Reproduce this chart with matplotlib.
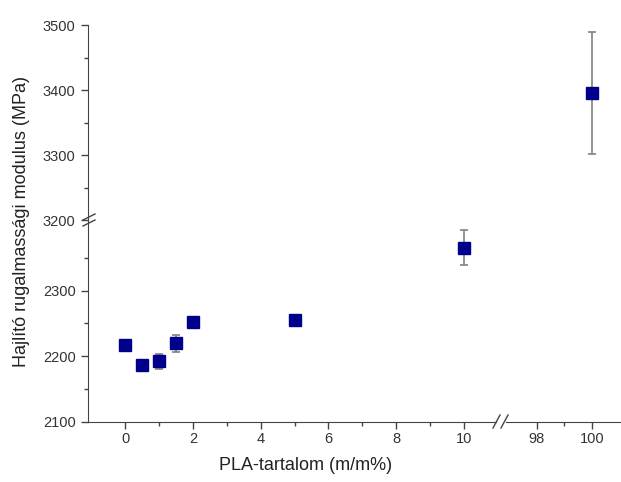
import matplotlib.pyplot as plt
from matplotlib.lines import Line2D

# ---------------- DATA ----------------

pla = [0, 0.5, 1, 1.5, 2, 5, 10, 100]
modulus = [2217, 2187, 2192, 2220, 2252, 2255, 2366, 3396]
err = [4, 4, 12, 13, 4, 4, 27, 94]

low_ticks = [2100, 2200, 2300]
high_ticks = [3200, 3300, 3400, 3500]
left_xticks = [0, 2, 4, 6, 8, 10]
right_xticks = [98, 100]

# ---------------- FIGURE ----------------

plt.rcParams["font.family"] = ["Liberation Sans", "DejaVu Sans"]

W, H = 621, 482
fig = plt.figure(figsize=(W / 100, H / 100), dpi=100)

def fx(px):
    return px / W

def fy(py):
    return 1 - py / H

x_left0, x_left1 = 88, 496
x_right0, x_right1 = 506, 620
y_bot, y_mid, y_top = 421.7, 220, 25

ax_ll = fig.add_axes([fx(x_left0), fy(y_bot), fx(x_left1 - x_left0), (y_bot - y_mid) / H])
ax_lr = fig.add_axes([fx(x_right0), fy(y_bot), fx(x_right1 - x_right0), (y_bot - y_mid) / H])
ax_ul = fig.add_axes([fx(x_left0), fy(y_mid), fx(x_left1 - x_left0), (y_mid - y_top) / H])
ax_ur = fig.add_axes([fx(x_right0), fy(y_mid), fx(x_right1 - x_right0), (y_mid - y_top) / H])

grey = "#444444"

for ax in [ax_ll, ax_lr, ax_ul, ax_ur]:
    ax.errorbar(pla, modulus, yerr=err, fmt="s", color="#00008B",
                markersize=8.5, ecolor="#808080", elinewidth=1.2,
                capsize=3, capthick=1.2, zorder=3)
    ax.patch.set_alpha(0)
    for s in ax.spines.values():
        s.set_visible(False)
    ax.tick_params(colors=grey, labelcolor="#333333", labelsize=10.5,
                   direction="out", length=5, width=1)
    ax.tick_params(which="minor", direction="out", length=3, width=1, colors=grey)
    ax.set_xticks([])
    ax.set_yticks([])

for ax in [ax_ll, ax_ul]:
    ax.set_xlim(-1.1, 10.95)
for ax in [ax_lr, ax_ur]:
    ax.set_xlim(96.9, 101.0)
for ax in [ax_ll, ax_lr]:
    ax.set_ylim(2100, 2408)
for ax in [ax_ul, ax_ur]:
    ax.set_ylim(3200, 3500)

# left spines
for ax, ticks in [(ax_ll, low_ticks), (ax_ul, high_ticks)]:
    ax.spines["left"].set_visible(True)
    ax.spines["left"].set_color(grey)
    ax.set_yticks(ticks)
    ax.set_yticks([t + 50 for t in ticks if t + 50 < ax.get_ylim()[1]], minor=True)

# bottom spines
ax_ll.spines["bottom"].set_visible(True)
ax_ll.set_xticks(left_xticks)
ax_ll.set_xticks([1, 3, 5, 7, 9], minor=True)
ax_lr.spines["bottom"].set_visible(True)
ax_lr.set_xticks(right_xticks)
ax_lr.set_xticks([99], minor=True)
for ax in [ax_ll, ax_lr]:
    ax.spines["bottom"].set_color(grey)
    ax.tick_params(axis="x", pad=2.5)
ax_ll.tick_params(axis="y", pad=4)
ax_ul.tick_params(axis="y", pad=4)

# ---------------- BREAK MARKS ----------------

def slash(x0, y0, x1, y1):
    fig.add_artist(Line2D([fx(x0), fx(x1)], [fy(y0), fy(y1)],
                          color=grey, lw=1, transform=fig.transFigure))

slash(83, 220, 95, 214)
slash(83, 226, 95, 220)
slash(493, 428, 500, 415)
slash(501, 428, 508, 415)

# ---------------- LABELS ----------------

fig.text(fx(22), fy(222), "Hajlító rugalmassági modulus (MPa)", rotation=90,
         ha="center", va="center", fontsize=13, color="#222222")
fig.text(fx(306), fy(466), "PLA-tartalom (m/m%)", ha="center", va="center",
         fontsize=13, color="#222222")

fig.savefig("out.png", dpi=100)
